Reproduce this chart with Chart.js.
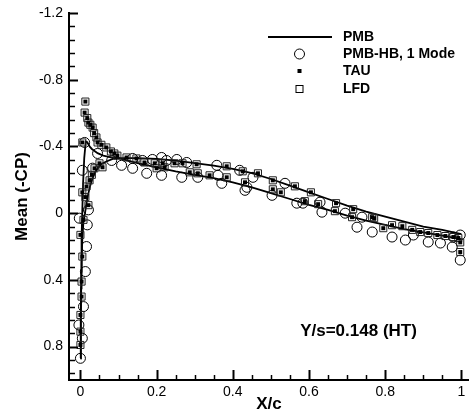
<!DOCTYPE html>
<html>
<head>
<meta charset="utf-8">
<script src="https://cdn.jsdelivr.net/npm/chart.js@4/dist/chart.umd.min.js"></script>
<style>
  html, body { margin: 0; padding: 0; background: #fff; }
  #wrap { width: 469px; height: 419px; }
</style>
</head>
<body>
<div id="wrap"><canvas id="cpChart" width="469" height="419"></canvas></div>
<script>
// axis ticks
const xTicks = [0, 0.2, 0.4, 0.6, 0.8, 1];
const yTicks = [-1.2, -0.8, -0.4, 0, 0.4, 0.8];

// PMB: suction branch (with the leading-edge peak) and the other branch
const pmbUpX = [0.000, 0.001, 0.002, 0.003, 0.005, 0.007, 0.010, 0.014, 0.018, 0.024, 0.030, 0.045, 0.060, 0.080, 0.100, 0.150, 0.200, 0.250, 0.300, 0.350, 0.400, 0.450, 0.500, 0.550, 0.600, 0.650, 0.700, 0.750, 0.800, 0.850, 0.900, 0.950, 1.000];
const pmbUpY = [0.87, 0.60, 0.35, 0.15, -0.02, -0.18, -0.33, -0.43, -0.425, -0.40, -0.385, -0.36, -0.345, -0.335, -0.33, -0.33, -0.325, -0.315, -0.30, -0.285, -0.265, -0.24, -0.205, -0.165, -0.125, -0.085, -0.045, -0.01, 0.02, 0.05, 0.08, 0.10, 0.125];

const pmbLoX = [0.000, 0.001, 0.002, 0.003, 0.005, 0.008, 0.012, 0.016, 0.020, 0.025, 0.032, 0.042, 0.055, 0.068, 0.085, 0.100, 0.150, 0.200, 0.250, 0.300, 0.350, 0.400, 0.450, 0.500, 0.550, 0.600, 0.650, 0.700, 0.750, 0.800, 0.850, 0.900, 0.950, 1.000];
const pmbLoY = [0.87, 0.65, 0.45, 0.30, 0.15, 0.05, 0.00, -0.06, -0.11, -0.16, -0.21, -0.26, -0.295, -0.31, -0.325, -0.33, -0.30, -0.275, -0.25, -0.23, -0.21, -0.185, -0.155, -0.12, -0.085, -0.05, -0.02, 0.015, 0.045, 0.07, 0.095, 0.115, 0.135, 0.155];

// PMB-HB, 1 Mode (circles)
const hbX = [0.000, 0.005, -0.004, 0.008, 0.013, 0.016, 0.018, -0.003, 0.021, 0.005, 0.011, 0.032, 0.045, 0.082, 0.108, 0.137, 0.137, 0.163, 0.174, 0.189, 0.213, 0.213, 0.226, 0.253, 0.266, 0.279, 0.308, 0.358, 0.361, 0.371, 0.418, 0.432, 0.437, 0.453, 0.503, 0.537, 0.568, 0.584, 0.629, 0.634, 0.695, 0.726, 0.739, 0.766, 0.818, 0.853, 0.874, 0.913, 0.945, 0.976, 0.979, 0.997, 0.997];
const hbY = [0.87, 0.75, 0.67, 0.56, 0.35, 0.20, 0.07, 0.03, -0.02, -0.257, -0.424, -0.27, -0.358, -0.316, -0.287, -0.328, -0.269, -0.316, -0.239, -0.322, -0.334, -0.227, -0.316, -0.322, -0.215, -0.304, -0.215, -0.287, -0.227, -0.179, -0.257, -0.137, -0.155, -0.215, -0.107, -0.179, -0.06, -0.06, -0.066, -0.006, 0.0, 0.084, 0.024, 0.113, 0.143, 0.161, 0.131, 0.173, 0.179, 0.203, 0.143, 0.131, 0.281];

// TAU (filled squares) - LFD squares sit on the same points
const tauX = [0.000, 0.000, 0.000, 0.003, 0.003, 0.005, 0.000, 0.008, 0.005, 0.013, 0.021, 0.016, 0.024, 0.030, 0.037, 0.050, 0.058, 0.005, 0.013, 0.011, 0.018, 0.021, 0.026, 0.032, 0.036, 0.042, 0.045, 0.055, 0.068, 0.080, 0.089, 0.097, 0.121, 0.147, 0.168, 0.195, 0.200, 0.216, 0.221, 0.247, 0.268, 0.287, 0.305, 0.308, 0.339, 0.384, 0.384, 0.426, 0.432, 0.466, 0.505, 0.505, 0.526, 0.563, 0.589, 0.605, 0.624, 0.668, 0.671, 0.716, 0.713, 0.766, 0.771, 0.795, 0.818, 0.845, 0.871, 0.892, 0.913, 0.937, 0.958, 0.979, 0.992, 0.997, 0.997];
const tauY = [0.79, 0.71, 0.61, 0.50, 0.41, 0.26, 0.13, 0.04, -0.125, -0.096, -0.048, -0.16, -0.197, -0.23, -0.269, -0.299, -0.275, -0.424, -0.669, -0.603, -0.57, -0.543, -0.53, -0.513, -0.48, -0.454, -0.424, -0.41, -0.394, -0.37, -0.358, -0.345, -0.334, -0.328, -0.304, -0.299, -0.269, -0.299, -0.275, -0.299, -0.299, -0.245, -0.293, -0.239, -0.227, -0.281, -0.215, -0.251, -0.185, -0.239, -0.197, -0.143, -0.125, -0.161, -0.072, -0.125, -0.054, -0.012, -0.06, -0.024, 0.024, 0.024, 0.03, 0.09, 0.072, 0.078, 0.10, 0.113, 0.119, 0.131, 0.137, 0.143, 0.149, 0.175, 0.233];
const lfdX = tauX;
const lfdY = tauY;

const FONT = "'Liberation Sans', Arial, sans-serif";

function pts(xs, ys) {
  return xs.map((x, i) => ({ x: x, y: ys[i] }));
}

// inward tick marks (Tecplot style)
const tickPlugin = {
  id: "inTicks",
  afterDraw(chart) {
    const ctx = chart.ctx;
    const xs = chart.scales.x, ys = chart.scales.y;
    const left = chart.chartArea.left, bottom = chart.chartArea.bottom;
    ctx.save();
    ctx.strokeStyle = "#000";
    for (let v = 0; v <= 1.0001; v += 0.05) {
      const major = Math.abs(v * 5 - Math.round(v * 5)) < 1e-6;
      const px = Math.round(xs.getPixelForValue(v)) + 0.5;
      ctx.lineWidth = major ? 2 : 1.5;
      ctx.beginPath();
      ctx.moveTo(px, bottom);
      ctx.lineTo(px, bottom - (major ? 10 : 5));
      ctx.stroke();
    }
    for (let k = 0; k <= 27; k++) {
      const v = -1.2 + k * 0.08;
      if (v > 0.999) break;
      const major = k % 5 === 0;
      const py = Math.round(ys.getPixelForValue(v)) + 0.5;
      ctx.lineWidth = major ? 2 : 1.5;
      ctx.beginPath();
      ctx.moveTo(left, py);
      ctx.lineTo(left + (major ? 9 : 6), py);
      ctx.stroke();
    }
    ctx.restore();
  }
};

// legend + note
const notePlugin = {
  id: "notes",
  afterDraw(chart) {
    const ctx = chart.ctx;
    ctx.save();
    ctx.fillStyle = "#000";
    ctx.strokeStyle = "#000";
    ctx.font = "bold 14px " + FONT;
    ctx.textBaseline = "middle";
    ctx.textAlign = "left";
    const rows = [
      ["PMB", 37], ["PMB-HB, 1 Mode", 54], ["TAU", 71], ["LFD", 89]
    ];
    rows.forEach(r => ctx.fillText(r[0], 343, r[1]));
    ctx.lineWidth = 1.8;
    ctx.beginPath(); ctx.moveTo(268, 37); ctx.lineTo(332, 37); ctx.stroke();
    ctx.lineWidth = 1;
    ctx.beginPath(); ctx.arc(299.5, 54, 5, 0, Math.PI * 2); ctx.stroke();
    ctx.fillRect(297.5, 69, 4, 4);
    ctx.strokeRect(296, 85.5, 7, 7);

    ctx.font = "bold 17px " + FONT;
    ctx.textAlign = "center";
    ctx.fillText("Y/s=0.148 (HT)", chart.scales.x.getPixelForValue(0.73), chart.scales.y.getPixelForValue(0.71));
    ctx.restore();
  }
};

const cpData = {
  datasets: [
    {
      label: "PMB",
      data: pts(pmbUpX, pmbUpY),
      showLine: true,
      borderColor: "#000",
      borderWidth: 1.8,
      pointRadius: 0,
      order: 3
    },
    {
      label: "PMB lower",
      data: pts(pmbLoX, pmbLoY),
      showLine: true,
      borderColor: "#000",
      borderWidth: 1.8,
      pointRadius: 0,
      order: 3
    },
    {
      label: "PMB-HB, 1 Mode",
      data: pts(hbX, hbY),
      pointStyle: "circle",
      pointRadius: 5,
      borderWidth: 1,
      borderColor: "#000",
      backgroundColor: "rgba(0,0,0,0)",
      order: 2
    },
    {
      label: "LFD",
      data: pts(lfdX, lfdY),
      pointStyle: "rect",
      pointRadius: 5,
      borderWidth: 1,
      borderColor: "#222",
      backgroundColor: "rgba(0,0,0,0)",
      order: 1
    },
    {
      label: "TAU",
      data: pts(tauX, tauY),
      pointStyle: "rect",
      pointRadius: 2.8,
      borderWidth: 0,
      backgroundColor: "#000",
      order: 0
    }
  ]
};

const cpConfig = {
  type: "scatter",
  data: cpData,
  options: {
    responsive: false,
    animation: false,
    devicePixelRatio: 1,
    layout: { autoPadding: false, padding: { top: 13, right: 0, left: 0, bottom: 0 } },
    plugins: { legend: { display: false }, tooltip: { enabled: false } },
    scales: {
      x: {
        type: "linear",
        min: -0.03,
        max: 1.02,
        afterFit: s => { s.height = 39; s.paddingLeft = 0; s.paddingRight = 0; },
        afterBuildTicks: s => { s.ticks = xTicks.map(v => ({ value: v })); },
        grid: { display: false, drawTicks: false },
        border: { display: true, color: "#000", width: 2 },
        ticks: {
          padding: 4,
          color: "#000",
          font: { family: FONT, size: 14 },
          maxRotation: 0,
          callback: v => String(Math.round(v * 10) / 10)
        },
        title: {
          display: true,
          text: "X/c",
          color: "#000",
          font: { family: FONT, size: 17, weight: "bold" },
          padding: { top: 0, bottom: 4 }
        }
      },
      y: {
        type: "linear",
        reverse: true,
        min: -1.2,
        max: 1.0,
        afterFit: s => { s.width = 69; s.paddingTop = 0; s.paddingBottom = 0; },
        afterBuildTicks: s => { s.ticks = yTicks.map(v => ({ value: v })); },
        grid: { display: false, drawTicks: false },
        border: { display: true, color: "#000", width: 2 },
        ticks: {
          padding: 6,
          color: "#000",
          font: { family: FONT, size: 14 },
          callback: v => String(Math.round(v * 10) / 10)
        },
        title: {
          display: true,
          text: "Mean (-CP)",
          color: "#000",
          font: { family: FONT, size: 17, weight: "bold" },
          padding: { top: 12, bottom: 0 }
        }
      }
    }
  },
  plugins: [tickPlugin, notePlugin]
};

const cpChart = new Chart(document.getElementById("cpChart"), cpConfig);
</script>
</body>
</html>
